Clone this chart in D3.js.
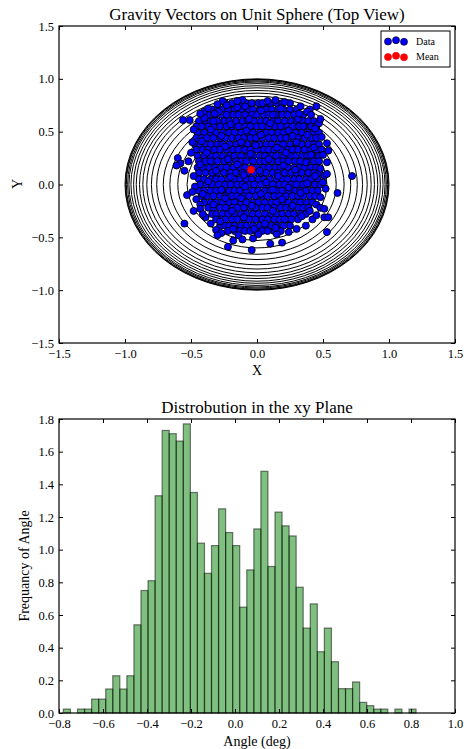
<!DOCTYPE html>
<html>
<head>
<meta charset="utf-8">
<script src="https://cdn.jsdelivr.net/npm/d3@7"></script>
<style>
  body { margin: 0; background: #fff; }
  text { font-family: "Liberation Serif", "Times New Roman", serif; fill: #000; }
</style>
</head>
<body>
<svg id="chart" width="467" height="749"></svg>
<script>
// radii of the sphere contour rings
var ringRadii = [0.31, 0.44, 0.53, 0.60, 0.66, 0.71, 0.76, 0.80, 0.835, 0.865, 0.89, 0.915, 0.935, 0.955, 0.97, 0.98, 0.99, 0.995, 1.0];

// dense core of the data, one row per y: [y, x1, x2, ...]
var dataRows = [
  [0.77, -0.24,-0.19,-0.13,-0.08,-0.04,0.01,0.06,0.10,0.15,0.19,0.25],
  [0.71, -0.34,-0.30,-0.26,-0.22,-0.17,-0.12,-0.07,-0.03,0.02,0.07,0.11,0.16,0.20,0.25,0.30],
  [0.66, -0.41,-0.37,-0.32,-0.27,-0.23,-0.18,-0.14,-0.09,-0.04,0.00,0.05,0.09,0.14,0.19,0.23,0.28,0.35],
  [0.60, -0.44,-0.39,-0.35,-0.30,-0.25,-0.21,-0.16,-0.11,-0.07,-0.02,0.03,0.07,0.12,0.16,0.21,0.26,0.30,0.35,0.39,0.43],
  [0.55, -0.46,-0.42,-0.37,-0.33,-0.28,-0.23,-0.19,-0.14,-0.09,-0.05,0.00,0.04,0.09,0.14,0.18,0.23,0.27,0.32,0.36,0.41,0.45],
  [0.49, -0.45,-0.40,-0.35,-0.31,-0.26,-0.21,-0.17,-0.12,-0.07,-0.03,0.02,0.07,0.11,0.16,0.20,0.25,0.29,0.34,0.39,0.43,0.47],
  [0.44, -0.46,-0.42,-0.38,-0.33,-0.28,-0.24,-0.19,-0.14,-0.10,-0.05,-0.01,0.04,0.09,0.13,0.18,0.22,0.27,0.31,0.36,0.41,0.45],
  [0.38, -0.47,-0.43,-0.39,-0.35,-0.30,-0.26,-0.21,-0.16,-0.12,-0.07,-0.02,0.02,0.07,0.11,0.16,0.20,0.25,0.30,0.34,0.39,0.43,0.47],
  [0.33, -0.46,-0.41,-0.37,-0.32,-0.28,-0.23,-0.18,-0.14,-0.09,-0.05,0.00,0.05,0.09,0.13,0.18,0.23,0.27,0.31,0.36,0.41,0.45,0.49],
  [0.27, -0.45,-0.40,-0.35,-0.31,-0.26,-0.21,-0.17,-0.12,-0.07,-0.03,0.02,0.06,0.11,0.15,0.20,0.25,0.29,0.34,0.38,0.42,0.47],
  [0.22, -0.44,-0.39,-0.35,-0.30,-0.25,-0.21,-0.16,-0.12,-0.08,-0.03,0.02,0.06,0.11,0.16,0.20,0.24,0.29,0.33,0.38,0.43,0.47],
  [0.16, -0.45,-0.41,-0.36,-0.32,-0.27,-0.23,-0.18,-0.13,-0.09,-0.04,0.00,0.05,0.09,0.14,0.18,0.23,0.28,0.32,0.36,0.41,0.45],
  [0.11, -0.44,-0.39,-0.34,-0.30,-0.25,-0.20,-0.16,-0.11,-0.07,-0.02,0.03,0.07,0.12,0.16,0.21,0.26,0.30,0.34,0.39,0.43,0.47],
  [0.05, -0.44,-0.40,-0.35,-0.31,-0.27,-0.22,-0.17,-0.13,-0.08,-0.04,0.01,0.05,0.10,0.15,0.19,0.23,0.28,0.32,0.37,0.41,0.46],
  [0.00, -0.43,-0.38,-0.34,-0.29,-0.24,-0.20,-0.15,-0.11,-0.06,-0.02,0.03,0.08,0.12,0.17,0.21,0.26,0.30,0.35,0.39,0.44,0.48],
  [-0.06, -0.44,-0.40,-0.35,-0.31,-0.26,-0.21,-0.17,-0.13,-0.08,-0.03,0.01,0.06,0.10,0.15,0.19,0.24,0.29,0.33,0.37,0.42,0.46],
  [-0.11, -0.42,-0.38,-0.33,-0.28,-0.24,-0.19,-0.15,-0.10,-0.06,-0.01,0.04,0.08,0.13,0.17,0.22,0.27,0.31,0.35,0.40,0.44],
  [-0.17, -0.40,-0.35,-0.31,-0.26,-0.21,-0.17,-0.12,-0.08,-0.03,0.01,0.06,0.11,0.15,0.20,0.24,0.29,0.33,0.38,0.42],
  [-0.22, -0.37,-0.33,-0.28,-0.24,-0.19,-0.15,-0.10,-0.05,-0.01,0.04,0.08,0.13,0.18,0.22,0.26,0.31,0.35,0.39],
  [-0.28, -0.34,-0.31,-0.26,-0.22,-0.17,-0.12,-0.08,-0.03,0.01,0.06,0.11,0.15,0.19,0.24,0.28,0.33,0.37],
  [-0.33, -0.31,-0.27,-0.24,-0.19,-0.15,-0.10,-0.06,-0.01,0.04,0.08,0.13,0.17,0.22,0.26,0.31],
  [-0.39, -0.28,-0.24,-0.21,-0.17,-0.12,-0.08,-0.03,0.02,0.06,0.11,0.15,0.20,0.25],
  [-0.44, -0.22,-0.17,-0.13,-0.09,-0.05,-0.01,0.04,0.08,0.13,0.18]
];

// points lying over the core at irregular places [x, y]
var looseCore = [
  [-0.26,0.79],[-0.11,0.80],[0.08,0.79],[0.21,0.78],[0.33,0.74],[-0.40,0.69],[0.40,0.71],
  [-0.48,0.52],[-0.49,0.40],[-0.50,0.30],[-0.48,0.08],[-0.47,-0.02],[-0.46,-0.14],[-0.43,-0.19],
  [-0.39,-0.31],[-0.35,-0.37],[-0.31,-0.43],
  [0.47,0.58],[0.49,0.45],[0.50,0.28],[0.50,0.02],[0.48,-0.12],[0.45,-0.19],[0.42,-0.33],
  [0.37,-0.39],[0.30,-0.42],[0.24,-0.45],
  [-0.27,-0.46],[-0.14,-0.48],[0.01,-0.47],[0.15,-0.47],
  [-0.40,0.63],[-0.29,0.69],[-0.15,0.73],[0.03,0.70],[0.18,0.72],[0.31,0.62],[-0.35,0.52],
  [-0.20,0.57],[-0.06,0.62],[0.10,0.58],[0.24,0.51],[0.38,0.47],[-0.42,0.41],[-0.27,0.46],
  [-0.12,0.40],[0.03,0.47],[0.15,0.35],[0.30,0.40],[0.43,0.35],[-0.38,0.30],[-0.22,0.24],
  [-0.05,0.29],[0.09,0.24],[0.22,0.30],[0.37,0.21],[-0.43,0.19],[-0.31,0.13],[-0.15,0.19],
  [0.02,0.13],[0.16,0.08],[0.29,0.14],[0.44,0.08],[-0.37,0.03],[-0.20,0.07],[-0.09,-0.02],
  [0.07,0.02],[0.24,-0.03],[0.38,0.01],[-0.41,-0.09],[-0.27,-0.05],[-0.12,-0.13],[0.03,-0.09],
  [0.19,-0.14],[0.33,-0.08],[-0.33,-0.19],[-0.19,-0.25],[-0.04,-0.20],[0.12,-0.25],[0.27,-0.20],
  [0.40,-0.25],[-0.28,-0.35],[-0.10,-0.31],[0.06,-0.37],[0.21,-0.33],[0.34,-0.30],[-0.18,-0.42],
  [-0.02,-0.42],[0.14,-0.41],[-0.33,0.60],[0.12,0.66],[-0.08,0.51],[0.35,0.55],[-0.24,0.36],
  [0.27,0.46],[-0.01,0.37],[0.41,0.28],[-0.10,0.09],[0.12,-0.05],[-0.24,-0.13],[0.20,0.18]
];

// stray points around the core [x, y]
var outerPts = [
  [-0.30,0.76],[-0.23,0.75],[-0.15,0.79],[-0.09,0.74],[0.04,0.77],[0.14,0.80],
  [0.45,0.74],[0.48,0.62],[0.38,0.69],[0.41,0.66],[0.32,0.67],[0.53,0.39],[0.44,0.53],
  [0.54,0.32],[0.53,0.21],[0.48,0.15],[0.51,0.085],[0.53,0.10],[0.72,0.08],
  [-0.56,0.61],[-0.51,0.61],[-0.43,0.67],[-0.37,0.72],[-0.32,0.67],
  [-0.60,0.25],[-0.58,0.20],[-0.52,0.22],[-0.61,0.18],[-0.55,0.13],
  [-0.53,-0.10],[-0.49,-0.07],[-0.55,-0.37],[-0.48,-0.25],[-0.43,-0.23],[-0.41,-0.28],
  [-0.30,-0.48],[-0.22,-0.59],[-0.11,-0.52],[-0.18,-0.53],[-0.03,-0.51],[-0.04,-0.62],
  [0.19,-0.55],[0.10,-0.56],
  [0.52,-0.04],[0.61,-0.08],[0.48,-0.22],[0.51,-0.23],[0.45,-0.29],[0.51,-0.31],[0.54,-0.31],[0.53,-0.45]
];
var meanPt = [-0.045, 0.14];

// histogram (density per bin), 50 bins between histLo and histHi
var histVals = [0.024,0,0.024,0.024,0.085,0.085,0.147,0.228,0.147,0.228,
                0.54,0.75,0.81,1.33,1.73,1.71,1.665,1.77,1.35,1.04,
                0.855,1.025,1.25,1.105,1.025,0.648,0.876,1.127,1.48,0.897,
                1.23,1.146,1.084,0.77,0.52,0.668,0.375,0.52,0.314,0.149,
                0.149,0.19,0.065,0.045,0.024,0.024,0,0.024,0,0.024];
var histLo = -0.780, histHi = 0.823;

var sphereTicks = [-1.5, -1.0, -0.5, 0.0, 0.5, 1.0, 1.5];
var histXTicks = [-0.8, -0.6, -0.4, -0.2, 0.0, 0.2, 0.4, 0.6, 0.8, 1.0];
var histYTicks = [0.0, 0.2, 0.4, 0.6, 0.8, 1.0, 1.2, 1.4, 1.6, 1.8];

var svg = d3.select("#chart");
var fmt = d3.format(".1f");

// draws frame + inward ticks on all four sides
function frame(g, x, y, xt, yt){
  var w = x.range()[1] - x.range()[0];
  var h = y.range()[0] - y.range()[1];
  g.append("g").attr("transform", "translate(0," + h + ")")
    .call(d3.axisBottom(x).tickValues(xt).tickFormat(fmt).tickSize(-4).tickSizeOuter(0).tickPadding(6));
  g.append("g")
    .call(d3.axisTop(x).tickValues(xt).tickFormat("").tickSize(-4).tickSizeOuter(0));
  g.append("g")
    .call(d3.axisLeft(y).tickValues(yt).tickFormat(fmt).tickSize(-4).tickSizeOuter(0).tickPadding(5));
  g.append("g").attr("transform", "translate(" + w + ",0)")
    .call(d3.axisRight(y).tickValues(yt).tickFormat("").tickSize(-4).tickSizeOuter(0));
  g.selectAll(".domain").remove();
  g.selectAll(".tick line").attr("stroke", "#000").attr("stroke-width", 1);
  g.selectAll(".tick text").style("font-size", "12.5px").style("font-family", '"Liberation Serif", serif');
  g.append("rect").attr("width", w).attr("height", h)
    .attr("fill", "none").attr("stroke", "#000").attr("stroke-width", 1.2);
}

/* ---------- top: scatter on unit sphere ---------- */
var g1 = svg.append("g").attr("transform", "translate(59,26)");
var x1 = d3.scaleLinear().domain([-1.5, 1.5]).range([0, 396]);
var y1 = d3.scaleLinear().domain([-1.5, 1.5]).range([317, 0]);

g1.selectAll("ellipse.ring").data(ringRadii).enter().append("ellipse")
  .attr("class", "ring")
  .attr("cx", x1(0)).attr("cy", y1(0))
  .attr("rx", function(r){ return x1(r) - x1(0); })
  .attr("ry", function(r){ return y1(0) - y1(r); })
  .attr("fill", "none").attr("stroke", "#000").attr("stroke-width", 1);

var pts = [];
dataRows.forEach(function(row){
  for (var i = 1; i < row.length; i++) pts.push([row[i], row[0]]);
});
pts = pts.concat(looseCore, outerPts);

g1.selectAll("circle.data").data(pts).enter().append("circle")
  .attr("class", "data")
  .attr("cx", function(d){ return x1(d[0]); })
  .attr("cy", function(d){ return y1(d[1]); })
  .attr("r", 3.5)
  .attr("fill", "#0000ff").attr("stroke", "#000").attr("stroke-width", 0.9);

g1.append("circle")
  .attr("cx", x1(meanPt[0])).attr("cy", y1(meanPt[1])).attr("r", 3.6)
  .attr("fill", "#ff0000").attr("stroke", "#cc0000").attr("stroke-width", 0.7);

frame(g1, x1, y1, sphereTicks, sphereTicks);

svg.append("text").attr("x", 257).attr("y", 20).attr("text-anchor", "middle")
  .style("font-size", "17px").text("Gravity Vectors on Unit Sphere (Top View)");
svg.append("text").attr("x", 257).attr("y", 375).attr("text-anchor", "middle")
  .style("font-size", "14px").text("X");
svg.append("text").attr("transform", "translate(22,184) rotate(-90)").attr("text-anchor", "middle")
  .style("font-size", "14px").text("Y");

// legend
var lg = svg.append("g").attr("transform", "translate(381,31)");
lg.append("rect").attr("width", 69).attr("height", 36)
  .attr("fill", "#fff").attr("stroke", "#000").attr("stroke-width", 1);
var legendItems = [
  {label: "Data", fill: "#0000ff", stroke: "#000"},
  {label: "Mean", fill: "#ff0000", stroke: "#ff0000"}
];
var dotOffsets = [[7, 0.5], [15, -0.8], [23, 0.8]];
legendItems.forEach(function(it, i){
  var cy = 10 + i * 15.5;
  dotOffsets.forEach(function(o){
    lg.append("circle").attr("cx", o[0]).attr("cy", cy + o[1]).attr("r", 3.5)
      .attr("fill", it.fill).attr("stroke", it.stroke).attr("stroke-width", 0.7);
  });
  lg.append("text").attr("x", 35).attr("y", cy + 3.5)
    .style("font-size", "10px").text(it.label);
});

/* ---------- bottom: histogram ---------- */
var g2 = svg.append("g").attr("transform", "translate(59,419)");
var x2 = d3.scaleLinear().domain([-0.8, 1.0]).range([0, 396]);
var y2 = d3.scaleLinear().domain([0, 1.8]).range([294, 0]);
var binW = (histHi - histLo) / histVals.length;

var bins = histVals.map(function(v, i){
  return {x0: histLo + i * binW, x1: histLo + (i + 1) * binW, v: v};
}).filter(function(b){ return b.v > 0; });

g2.selectAll("rect.bar").data(bins).enter().append("rect")
  .attr("class", "bar")
  .attr("x", function(b){ return x2(b.x0); })
  .attr("width", function(b){ return x2(b.x1) - x2(b.x0); })
  .attr("y", function(b){ return y2(b.v); })
  .attr("height", function(b){ return y2(0) - y2(b.v); })
  .attr("fill", "rgba(0,128,0,0.5)")
  .attr("stroke", "rgba(0,0,0,0.5)").attr("stroke-width", 1.2);

frame(g2, x2, y2, histXTicks, histYTicks);

svg.append("text").attr("x", 257).attr("y", 413).attr("text-anchor", "middle")
  .style("font-size", "17px").text("Distrobution in the xy Plane");
svg.append("text").attr("x", 257).attr("y", 746).attr("text-anchor", "middle")
  .style("font-size", "14px").text("Angle (deg)");
svg.append("text").attr("transform", "translate(29,566) rotate(-90)").attr("text-anchor", "middle")
  .style("font-size", "14px").text("Frequancy of Angle");
</script>
</body>
</html>
